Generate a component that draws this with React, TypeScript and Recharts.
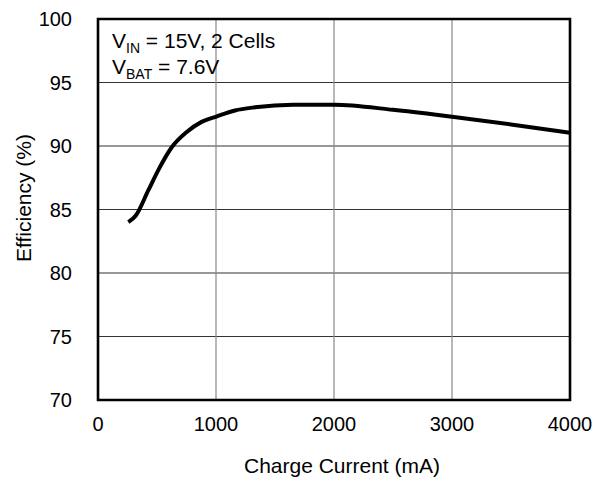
import { LineChart, Line, XAxis, YAxis, CartesianGrid, ReferenceArea, Customized } from 'recharts'

const FONT = '"Liberation Sans", Arial, sans-serif'

// charge current (mA) and efficiency (%)
const currentMA = [257, 319, 426, 511, 625, 752, 878, 997, 1161, 1331, 1653, 2000, 2500, 3000, 3500, 4000]
const efficiency = [84.0, 84.5, 86.5, 88.1, 89.9, 91.1, 91.9, 92.3, 92.8, 93.05, 93.25, 93.25, 92.85, 92.3, 91.7, 91.05]

const xTicks = [0, 1000, 2000, 3000, 4000]
const yTicks = [70, 75, 80, 85, 90, 95, 100]

const data = currentMA.map((x, i) => ({ x, eff: efficiency[i] }))

const tickStyle = { fill: '#000', fontSize: 20, fontFamily: FONT }

function Annotations() {
  return (
    <g fontFamily={FONT} fill="#000">
      <text x={112} y={48} fontSize={21}>
        V<tspan fontSize={14} dy={5}>IN</tspan>
        <tspan dy={-5}> = 15V, 2 Cells</tspan>
      </text>
      <text x={112} y={74} fontSize={21}>
        V<tspan fontSize={14} dy={5}>BAT</tspan>
        <tspan dy={-5}> = 7.6V</tspan>
      </text>
      <text x={342} y={473} fontSize={21} textAnchor="middle">Charge Current (mA)</text>
      <text x={31} y={198} fontSize={21} textAnchor="middle" transform="rotate(-90 31 198)">Efficiency (%)</text>
    </g>
  )
}

export default function App() {
  return (
    <div style={{ background: '#fff', width: 593, height: 479 }}>
      <style>{'body { margin: 0; }'}</style>
      <LineChart width={593} height={479} data={data} margin={{ top: 19, right: 23, left: 0, bottom: 0 }}>
        <CartesianGrid vertical={false} stroke="#333" strokeWidth={1.2} />
        <CartesianGrid horizontal={false} stroke="#888" strokeWidth={1.2} />
        <XAxis
          type="number"
          dataKey="x"
          domain={[0, 4000]}
          ticks={xTicks}
          height={79}
          tick={tickStyle}
          tickLine={false}
          tickSize={0}
          tickMargin={17}
          axisLine={false}
        />
        <YAxis
          type="number"
          domain={[70, 100]}
          ticks={yTicks}
          width={98}
          tick={tickStyle}
          tickLine={false}
          tickSize={0}
          tickMargin={26}
          axisLine={false}
        />
        <ReferenceArea x1={0} x2={4000} y1={70} y2={100} fill="none" stroke="#000" strokeWidth={2.6} fillOpacity={0} ifOverflow="visible" />
        <Line
          type="monotone"
          dataKey="eff"
          stroke="#000"
          strokeWidth={4}
          dot={false}
          isAnimationActive={false}
        />
        <Customized component={Annotations} />
      </LineChart>
    </div>
  )
}
